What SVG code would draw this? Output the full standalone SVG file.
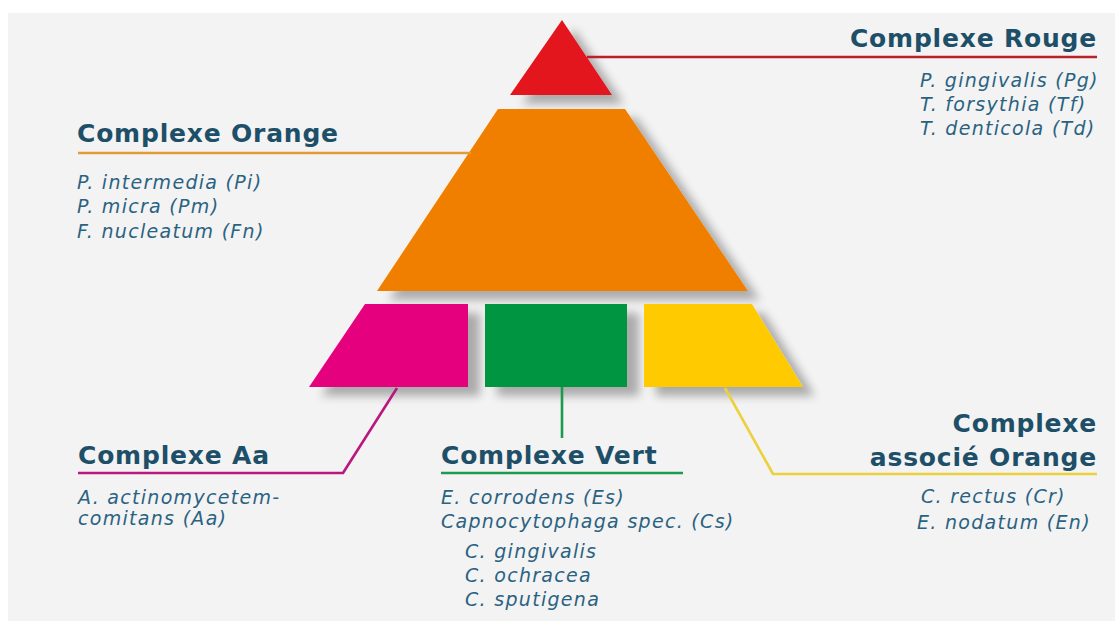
<svg xmlns="http://www.w3.org/2000/svg" width="1115" height="621" viewBox="0 0 1115 621">
<defs>
<filter id="sh" x="-20%" y="-20%" width="150%" height="160%">
<feGaussianBlur in="SourceAlpha" stdDeviation="5"/>
<feOffset dx="12" dy="9" result="b"/>
<feComponentTransfer><feFuncA type="linear" slope="0.3"/></feComponentTransfer>
<feMerge><feMergeNode/><feMergeNode in="SourceGraphic"/></feMerge>
</filter>
<style>
.t{font-family:"DejaVu Sans","Liberation Sans",sans-serif;font-weight:bold;font-size:25px;fill:#1e4f68;letter-spacing:0.8px}
.s{font-family:"DejaVu Sans","Liberation Sans",sans-serif;font-style:italic;font-size:19px;fill:#2a6282;letter-spacing:1.3px}
.ln{fill:none;stroke-width:2.6;stroke-linejoin:round}
</style>
</defs>
<rect x="0" y="0" width="1115" height="621" fill="#ffffff"/>
<rect x="8" y="13" width="1107" height="608" fill="#f3f3f3"/>

<g id="shapes" filter="url(#sh)">
<polygon id="red" points="562,20 612,95 510,95" fill="#e2131b"/>
<polygon id="orange" points="498,109 625,109 748,291 377,291" fill="#f07f00"/>
<polygon id="magenta" points="365,304 468,304 468,387 309,387" fill="#e5007e"/>
<rect id="green" x="485" y="304" width="142" height="83" fill="#009540"/>
<polygon id="yellow" points="644,304 752,304 803,387 644,387" fill="#ffcb05"/>
</g>

<g id="connectors">
<line class="ln" x1="587" y1="57" x2="1097" y2="57" stroke="#b8232b"/>
<line class="ln" x1="78" y1="153" x2="471" y2="153" stroke="#e39a37"/>
<polyline class="ln" points="78,473 343,473 397,388" stroke="#b8197e"/>
<line class="ln" x1="562" y1="387" x2="562" y2="438" stroke="#1e9a50"/>
<line class="ln" x1="441" y1="473" x2="683" y2="473" stroke="#1e9a50"/>
<polyline class="ln" points="725,388 773,474 1097,474" stroke="#ecd03c"/>
</g>

<g id="complexe-rouge">
<text class="t" x="1097" y="47" text-anchor="end">Complexe Rouge</text>
<text class="s" x="920" y="87">P. gingivalis (Pg)</text>
<text class="s" x="920" y="111">T. forsythia (Tf)</text>
<text class="s" x="920" y="135">T. denticola (Td)</text>
</g>

<g id="complexe-orange">
<text class="t" x="77" y="142">Complexe Orange</text>
<text class="s" x="77" y="189">P. intermedia (Pi)</text>
<text class="s" x="77" y="213">P. micra (Pm)</text>
<text class="s" x="77" y="238">F. nucleatum (Fn)</text>
</g>

<g id="complexe-aa">
<text class="t" x="78" y="464">Complexe Aa</text>
<text class="s" x="78" y="504">A. actinomycetem-</text>
<text class="s" x="78" y="525">comitans (Aa)</text>
</g>

<g id="complexe-vert">
<text class="t" x="441" y="464">Complexe Vert</text>
<text class="s" x="441" y="504">E. corrodens (Es)</text>
<text class="s" x="441" y="528">Capnocytophaga spec. (Cs)</text>
<text class="s" x="465" y="558">C. gingivalis</text>
<text class="s" x="465" y="582">C. ochracea</text>
<text class="s" x="465" y="606">C. sputigena</text>
</g>

<g id="complexe-associe-orange">
<text class="t" x="1097" y="432" text-anchor="end">Complexe</text>
<text class="t" x="1097" y="466" text-anchor="end">associé Orange</text>
<text class="s" x="921" y="503">C. rectus (Cr)</text>
<text class="s" x="917" y="529">E. nodatum (En)</text>
</g>
</svg>
